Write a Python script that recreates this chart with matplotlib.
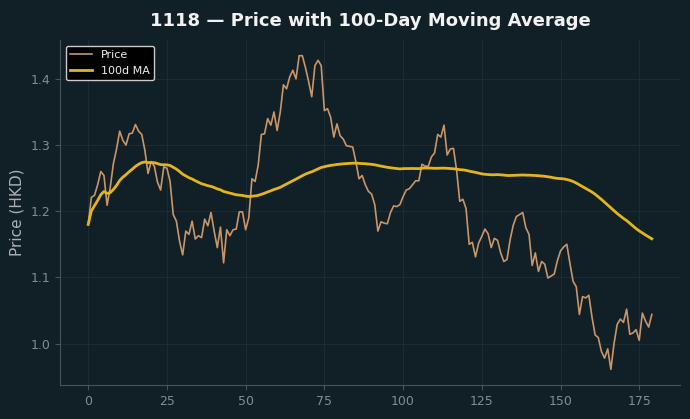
import numpy as np
import pandas as pd
import matplotlib
matplotlib.use("Agg")
import matplotlib.pyplot as plt

title = "1118 — Price with 100-Day Moving Average"
ylabel = "Price (HKD)"
ma_window = 100

price = [
    1.180, 1.221, 1.224, 1.240, 1.260, 1.254, 1.209, 1.236, 1.272, 1.294,
    1.321, 1.307, 1.300, 1.317, 1.318, 1.331, 1.321, 1.316, 1.292, 1.257,
    1.275, 1.268, 1.244, 1.232, 1.267, 1.265, 1.245, 1.195, 1.185, 1.155,
    1.134, 1.170, 1.165, 1.185, 1.158, 1.163, 1.160, 1.188, 1.178, 1.198,
    1.170, 1.145, 1.176, 1.122, 1.172, 1.163, 1.172, 1.173, 1.199, 1.199,
    1.172, 1.190, 1.249, 1.245, 1.270, 1.316, 1.317, 1.340, 1.330, 1.350,
    1.322, 1.350, 1.391, 1.385, 1.403, 1.413, 1.400, 1.435, 1.435, 1.417,
    1.396, 1.373, 1.420, 1.428, 1.420, 1.352, 1.355, 1.342, 1.312, 1.332,
    1.314, 1.309, 1.299, 1.298, 1.297, 1.275, 1.249, 1.254, 1.240, 1.230,
    1.226, 1.210, 1.170, 1.184, 1.182, 1.181, 1.198, 1.208, 1.207, 1.210,
    1.222, 1.232, 1.234, 1.240, 1.246, 1.246, 1.271, 1.268, 1.268, 1.282,
    1.288, 1.316, 1.312, 1.330, 1.285, 1.294, 1.295, 1.262, 1.215, 1.218,
    1.204, 1.150, 1.153, 1.131, 1.152, 1.162, 1.173, 1.166, 1.145, 1.159,
    1.156, 1.137, 1.124, 1.127, 1.157, 1.179, 1.192, 1.195, 1.198, 1.175,
    1.165, 1.118, 1.137, 1.109, 1.124, 1.120, 1.099, 1.102, 1.105, 1.125,
    1.140, 1.146, 1.150, 1.121, 1.094, 1.086, 1.044, 1.071, 1.069, 1.073,
    1.040, 1.013, 1.009, 0.988, 0.978, 0.992, 0.961, 1.000, 1.029, 1.037,
    1.032, 1.052, 1.014, 1.016, 1.021, 1.005, 1.046, 1.034, 1.025, 1.044,
]

days = np.arange(len(price))
ma = pd.Series(price).rolling(ma_window, min_periods=1).mean()

bg = "#111f26"
fig = plt.figure(figsize=(6.9, 4.19), dpi=100, facecolor=bg)
ax = fig.add_axes([0.087, 0.081, 0.8985, 0.8235], facecolor=bg)

ax.plot(days, price, color="#c9966a", lw=1.2, label="Price")
ax.plot(days, ma, color="#e3b51c", lw=2.0, label="100d MA")

ax.grid(True, color="#1d2c33", lw=0.8)
ax.set_axisbelow(True)
for s in ["top", "right"]:
    ax.spines[s].set_visible(False)
for s in ["left", "bottom"]:
    ax.spines[s].set_color("#4a5358")
ax.tick_params(colors="#4a5358", labelcolor="#838c91", labelsize=9)
ax.set_yticks([1.0, 1.1, 1.2, 1.3, 1.4])
ax.set_ylabel(ylabel, color="#aab2b6", fontsize=11)
ax.set_title(title, color="#f2f2f2", fontsize=13, fontweight="bold", pad=10)

leg = ax.legend(loc="upper left", fontsize=8, facecolor="black", edgecolor="#cccccc",
                framealpha=1.0, labelcolor="#eeeeee")
leg.get_frame().set_linewidth(1.0)

fig.savefig("out.png", dpi=100, facecolor=bg)
